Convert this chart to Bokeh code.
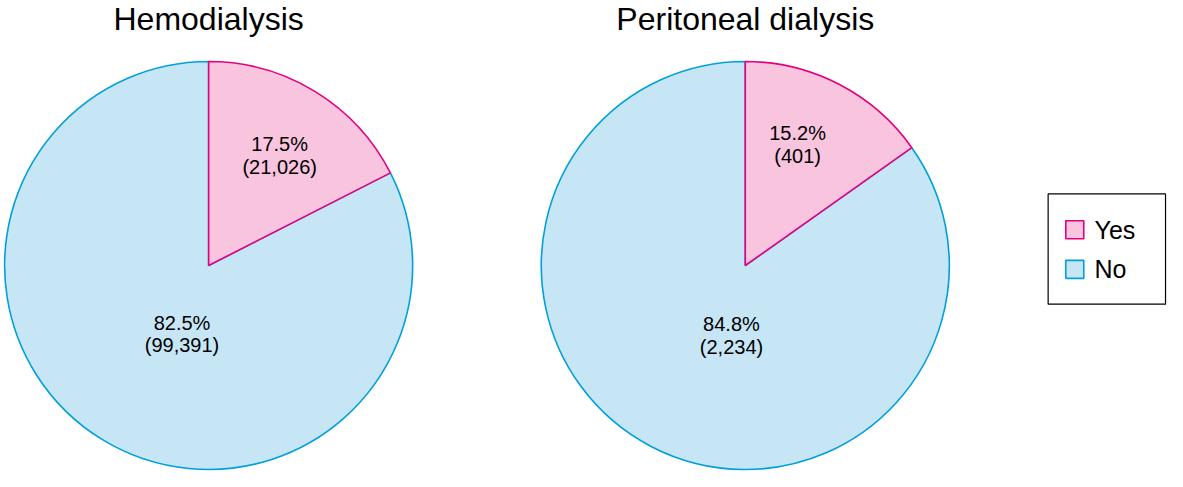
import math
from bokeh.plotting import figure
from bokeh.models import Range1d
from bokeh.core.properties import value
from bokeh.embed import file_html
from bokeh.resources import INLINE

titles = ["Hemodialysis", "Peritoneal dialysis"]
categories = ["Yes", "No"]
percent_hd = [17.5, 82.5]
counts_hd = ["21,026", "99,391"]
percent_pd = [15.2, 84.8]
counts_pd = ["401", "2,234"]

fill_colors = ["#F8C4DE", "#C6E6F6"]
line_colors = ["#E4007F", "#00A0DA"]

FW, FH = 1167, 471
SX, SY = FW / 1183.0, FH / 487.0

p = figure(width=FW, height=FH, output_backend="svg", toolbar_location=None,
           x_range=Range1d(0, FW), y_range=Range1d(0, FH), min_border=0)
p.axis.visible = False
p.grid.visible = False
p.outline_line_color = None
p.background_fill_color = "white"

font = value("Liberation Sans")

def X(v):
    return v * SX

def Y(v):
    return FH - v * SY

R = 204
pies = [
    (titles[0], 211, 274, percent_hd, counts_hd, [(283, 148, 172), (184, 333, 356)]),
    (titles[1], 755, 274, percent_pd, counts_pd, [(808, 137, 161), (741, 335, 358)]),
]
for title, cx, cy, pcts, cnts, lab in pies:
    start = math.pi / 2
    angles = []
    for v in pcts:
        ang = 2 * math.pi * v / 100.0
        angles.append((start - ang, start))
        start -= ang
    for i in [1, 0]:
        p.wedge(x=X(cx), y=Y(cy), radius=R, start_angle=angles[i][0], end_angle=angles[i][1],
                fill_color=fill_colors[i], line_color=line_colors[i], line_width=1.6)
    p.text(x=[X(cx)], y=[FH], text=[title], text_font=font, text_font_size="32px",
           text_align="center", text_baseline="top", text_color="black")
    for i in range(len(pcts)):
        lx, ly1, ly2 = lab[i]
        p.text(x=[X(lx), X(lx)], y=[Y(ly1), Y(ly2)],
               text=[f"{pcts[i]:.1f}%", f"({cnts[i]})"],
               text_font=font, text_font_size="20px", text_align="center",
               text_baseline="middle", text_color="black")

# legend box
p.quad(left=X(1062), right=X(1181), top=Y(200), bottom=Y(314), fill_color="white",
       line_color="black", line_width=1.2)
leg_y = [237, 278]
for i, cat in enumerate(categories):
    p.rect(x=X(1089), y=Y(leg_y[i]), width=18, height=18, fill_color=fill_colors[i],
           line_color=line_colors[i], line_width=1.6)
    p.text(x=[X(1109)], y=[Y(leg_y[i])], text=[cat], text_font=font, text_font_size="25px",
           text_align="left", text_baseline="middle", text_color="black")

open("out.html", "w").write(file_html(p, INLINE))
